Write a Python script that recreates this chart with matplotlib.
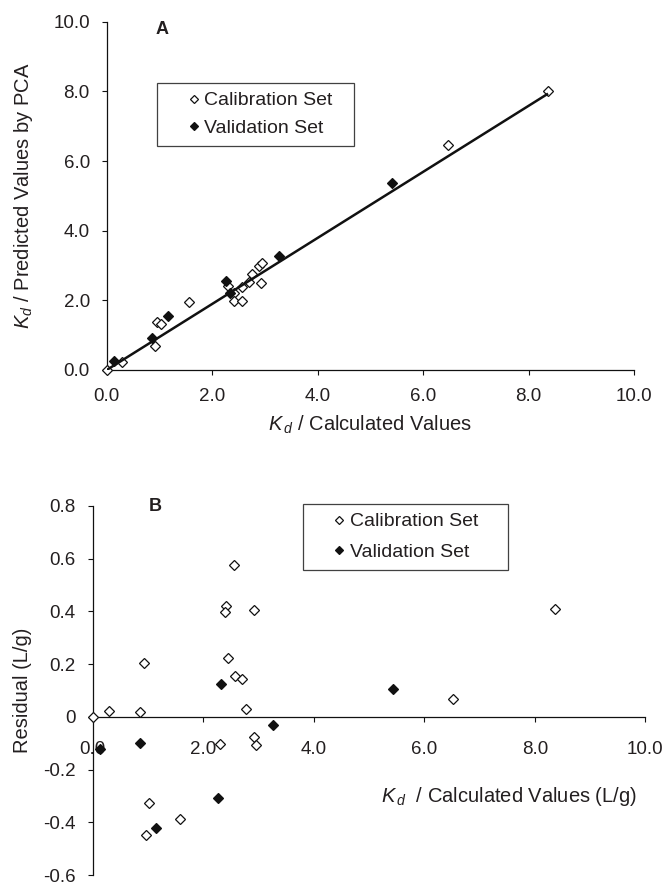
import numpy as np
import matplotlib
matplotlib.use("Agg")
import matplotlib.pyplot as plt
from matplotlib.lines import Line2D

# ============================================================
# DATOS
# ============================================================

# Panel A - valores calculados vs. predichos por PCA
cal_calc = [0.00, 0.29, 0.92, 0.95, 1.03, 1.57, 2.30, 2.42, 2.42, 2.57,
            2.57, 2.70, 2.76, 2.92, 2.88, 2.95, 6.47, 8.37]
cal_pred = [0.00, 0.24, 0.70, 1.39, 1.32, 1.94, 2.41, 2.20, 1.99, 1.99,
            2.39, 2.54, 2.75, 2.49, 2.99, 3.06, 6.46, 8.02]

val_calc = [0.14, 0.86, 1.16, 2.27, 2.33, 3.26, 5.42]
val_pred = [0.27, 0.93, 1.55, 2.56, 2.20, 3.27, 5.36]

# recta de tendencia
trend_slope = 0.948
trend_intercept = 0.0

# Panel B - residuales
res_cal_x = [0.01, 0.30, 0.86, 0.93, 2.56, 2.42, 2.39, 2.91, 2.45, 2.57,
             2.71, 2.78, 2.91, 2.95, 2.30, 1.02, 0.97, 1.58, 6.52, 8.37]
res_cal_y = [0.000, 0.023, 0.019, 0.206, 0.576, 0.420, 0.396, 0.407, 0.225,
             0.156, 0.144, 0.029, -0.078, -0.108, -0.104, -0.325, -0.448,
             -0.387, 0.069, 0.410]

res_val_x = [0.13, 0.85, 2.32, 3.26, 1.14, 2.27, 5.43]
res_val_y = [-0.123, -0.101, 0.124, -0.032, -0.422, -0.306, 0.105]

ticks_a = [0, 2, 4, 6, 8, 10]
tick_labels_a = ["0.0", "2.0", "4.0", "6.0", "8.0", "10.0"]
yticks_b = [-0.6, -0.4, -0.2, 0.0, 0.2, 0.4, 0.6, 0.8]
ytick_labels_b = ["-0.6", "-0.4", "-0.2", "0", "0.2", "0.4", "0.6", "0.8"]

# ============================================================
# ESTILO
# ============================================================

plt.rcParams["font.family"] = ["Liberation Sans", "DejaVu Sans"]
plt.rcParams["mathtext.fontset"] = "custom"
plt.rcParams["mathtext.rm"] = "Liberation Sans"
plt.rcParams["mathtext.it"] = "Liberation Sans:italic"
plt.rcParams["axes.unicode_minus"] = False

TEXT = "#231f20"
INK = "#111111"
W, H = 668, 883


def px_axes(fig, x0, y0, x1, y1):
    return fig.add_axes([x0 / W, 1 - y1 / H, (x1 - x0) / W, (y1 - y0) / H])


def style_axes(ax, xpad, ypad):
    for side in ("top", "right"):
        ax.spines[side].set_visible(False)
    for side in ("left", "bottom"):
        ax.spines[side].set_linewidth(0.9)
        ax.spines[side].set_color(INK)
    ax.tick_params(axis="x", direction="out", length=3.6, width=0.8,
                   colors=INK, labelcolor=TEXT, labelsize=13.5, pad=xpad)
    ax.tick_params(axis="y", direction="out", length=3.6, width=0.8,
                   colors=INK, labelcolor=TEXT, labelsize=13.5, pad=ypad)


def add_legend(ax, bbox, spacing):
    handles = [
        Line2D([], [], ls="none", marker="D", ms=4.2, mfc="white",
               mec=INK, mew=0.9),
        Line2D([], [], ls="none", marker="D", ms=4.2, mfc=INK,
               mec=INK, mew=0.9),
    ]
    leg = ax.legend(handles, ["Calibration Set", "Validation Set"],
                    loc="upper left", bbox_to_anchor=bbox, mode="expand",
                    fontsize=14, frameon=True, fancybox=False,
                    borderpad=0.45, labelspacing=spacing,
                    handlelength=2.86, handletextpad=-0.88,
                    borderaxespad=0.0, labelcolor=TEXT)
    leg.get_frame().set_edgecolor(INK)
    leg.get_frame().set_linewidth(0.9)
    return leg


fig = plt.figure(figsize=(W / 100, H / 100), dpi=100)

# ============================================================
# PANEL A
# ============================================================

ax1 = px_axes(fig, 106.7, 21.7, 634.0, 370.0)
style_axes(ax1, xpad=9.6, ypad=8.6)
ax1.set_xlim(0, 10)
ax1.set_ylim(0, 10)
ax1.set_xticks(ticks_a)
ax1.set_xticklabels(tick_labels_a)
ax1.set_yticks(ticks_a)
ax1.set_yticklabels(tick_labels_a)

ax1.plot(cal_calc, cal_pred, ls="none", marker="D", ms=5.2, mfc="white",
         mec=INK, mew=0.9, zorder=3, clip_on=False)
ax1.plot(val_calc, val_pred, ls="none", marker="D", ms=5.2, mfc=INK,
         mec=INK, mew=0.9, zorder=3, clip_on=False)

x_line = np.array([min(cal_calc), max(cal_calc)])
ax1.plot(x_line, trend_slope * x_line + trend_intercept, color=INK,
         lw=1.8, zorder=4, solid_capstyle="butt")

add_legend(ax1, ((157 - 106.7) / 527.3, (370 - 83) / 348.3,
                 (354 - 157) / 527.3, 0.0), 0.53)

fig.text(162 / W, 1 - 30 / H, "A", fontsize=13, fontweight="bold",
         color=TEXT, ha="center", va="center")
fig.text(370 / W, 1 - 425 / H, r"$K_{\,d}$ / Calculated Values",
         fontsize=14.5, color=TEXT, ha="center", va="center")
fig.text(24 / W, 1 - 196 / H, r"$K_d$ / Predicted Values by PCA",
         fontsize=14.5, color=TEXT, ha="center", va="center", rotation=90)

# ============================================================
# PANEL B
# ============================================================

ax2 = px_axes(fig, 92.7, 506.0, 645.3, 875.0)
style_axes(ax2, xpad=14, ypad=8.6)
ax2.spines["bottom"].set_position(("data", 0))
ax2.set_xlim(0, 10)
ax2.set_ylim(-0.6, 0.8)
ax2.set_xticks(ticks_a)
ax2.set_xticklabels(tick_labels_a)
ax2.set_yticks(yticks_b)
ax2.set_yticklabels(ytick_labels_b)

ax2.plot(res_cal_x, res_cal_y, ls="none", marker="D", ms=5.2, mfc="white",
         mec=INK, mew=0.9, zorder=3, clip_on=False)
ax2.plot(res_val_x, res_val_y, ls="none", marker="D", ms=5.2, mfc=INK,
         mec=INK, mew=0.9, zorder=3, clip_on=False)

add_legend(ax2, ((302.7 - 92.7) / 552.6, (875 - 504) / 369,
                 (508.3 - 302.7) / 552.6, 0.0), 0.67)

fig.text(155.7 / W, 1 - 506.7 / H, "B", fontsize=13, fontweight="bold",
         color=TEXT, ha="center", va="center")
fig.text(637 / W, 1 - 797 / H, r"$K_{\,d}$  / Calculated Values (L/g)",
         fontsize=14.5, color=TEXT, ha="right", va="center")
fig.text(22 / W, 1 - 690 / H, "Residual (L/g)",
         fontsize=14.5, color=TEXT, ha="center", va="center", rotation=90)

fig.savefig("out.png", dpi=100)
